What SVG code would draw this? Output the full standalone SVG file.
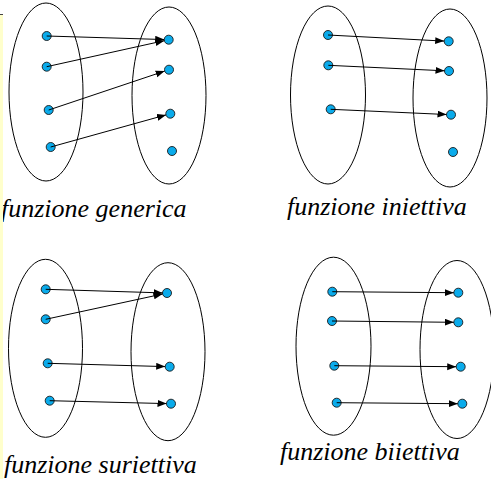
<svg xmlns="http://www.w3.org/2000/svg" width="491" height="479" viewBox="0 0 491 479">
<defs>
<marker id="ah" markerUnits="userSpaceOnUse" markerWidth="10" markerHeight="8" refX="9" refY="3.5" orient="auto">
<path d="M0,0 L9,3.5 L0,7 Z" fill="#000"/>
</marker>
</defs>
<text x="1" y="217" font-family="Liberation Serif" font-style="italic" font-size="26">funzione generica</text>
<text x="287" y="215" font-family="Liberation Serif" font-style="italic" font-size="26">funzione iniettiva</text>
<text x="4" y="473" font-family="Liberation Serif" font-style="italic" font-size="26">funzione suriettiva</text>
<text x="280" y="460" font-family="Liberation Serif" font-style="italic" font-size="26">funzione biiettiva</text>

<rect x="0" y="15" width="3" height="464" fill="#ffffcc"/>
<line x1="0" y1="14.5" x2="3" y2="14.5" stroke="#444" stroke-width="1"/>

<g id="generica">
<g fill="none" stroke="#000" stroke-width="1">
<ellipse cx="46" cy="92" rx="37" ry="89"/>
<ellipse cx="169" cy="95.5" rx="37" ry="88.5"/>
</g>
<g fill="#0aabeb" stroke="#1a1a1a" stroke-width="0.9">
<circle cx="46.7" cy="36" r="4.5"/>
<circle cx="46.7" cy="66.7" r="4.5"/>
<circle cx="48.7" cy="110" r="4.5"/>
<circle cx="50.7" cy="147" r="4.5"/>
<circle cx="168.7" cy="39.7" r="4.5"/>
<circle cx="169" cy="69.7" r="4.5"/>
<circle cx="170.3" cy="113.7" r="4.5"/>
<circle cx="172" cy="151" r="4.5"/>
</g>
</g>

<g id="iniettiva">
<g fill="none" stroke="#000" stroke-width="1">
<ellipse cx="328" cy="95" rx="37.5" ry="89"/>
<ellipse cx="450" cy="98" rx="37" ry="89"/>
</g>
<g fill="#0aabeb" stroke="#1a1a1a" stroke-width="0.9">
<circle cx="328" cy="35" r="4.5"/>
<circle cx="328.3" cy="65.3" r="4.5"/>
<circle cx="330.7" cy="109.3" r="4.5"/>
<circle cx="448.7" cy="41.3" r="4.5"/>
<circle cx="449" cy="71" r="4.5"/>
<circle cx="451" cy="114.7" r="4.5"/>
<circle cx="453" cy="152" r="4.5"/>
</g>
</g>

<g id="suriettiva">
<g fill="none" stroke="#000" stroke-width="1">
<ellipse cx="45.5" cy="348.3" rx="37" ry="89"/>
<ellipse cx="168" cy="351.7" rx="37" ry="89"/>
</g>
<g fill="#0aabeb" stroke="#1a1a1a" stroke-width="0.9">
<circle cx="45.7" cy="289.3" r="4.5"/>
<circle cx="45.7" cy="319.3" r="4.5"/>
<circle cx="47.7" cy="363.3" r="4.5"/>
<circle cx="49.7" cy="400.7" r="4.5"/>
<circle cx="167" cy="293" r="4.5"/>
<circle cx="169.7" cy="366.7" r="4.5"/>
<circle cx="171" cy="403.7" r="4.5"/>
</g>
</g>

<g id="biiettiva">
<g fill="none" stroke="#000" stroke-width="1">
<ellipse cx="333.5" cy="346.2" rx="37.5" ry="89"/>
<ellipse cx="457" cy="349.5" rx="37" ry="89"/>
</g>
<g fill="#0aabeb" stroke="#1a1a1a" stroke-width="0.9">
<circle cx="332.3" cy="291.7" r="4.5"/>
<circle cx="332" cy="321" r="4.5"/>
<circle cx="334.3" cy="365.7" r="4.5"/>
<circle cx="336.7" cy="402.7" r="4.5"/>
<circle cx="458.3" cy="292.7" r="4.5"/>
<circle cx="458.3" cy="322.3" r="4.5"/>
<circle cx="460.7" cy="366.7" r="4.5"/>
<circle cx="462.3" cy="403.7" r="4.5"/>
</g>
</g>

<g id="connectors" stroke="#000" stroke-width="1" fill="none" marker-end="url(#ah)">
<line x1="46.7" y1="36" x2="164.2" y2="39.56"/>
<line x1="46.7" y1="66.7" x2="164.3" y2="40.67"/>
<line x1="48.7" y1="110" x2="164.7" y2="71.1"/>
<line x1="50.7" y1="147" x2="166.0" y2="114.9"/>
<line x1="328" y1="35" x2="444.2" y2="41.1"/>
<line x1="328.3" y1="65.3" x2="444.5" y2="70.8"/>
<line x1="330.7" y1="109.3" x2="446.5" y2="114.5"/>
<line x1="45.7" y1="289.3" x2="162.5" y2="292.9"/>
<line x1="45.7" y1="319.3" x2="162.6" y2="294.0"/>
<line x1="47.7" y1="363.3" x2="165.2" y2="366.6"/>
<line x1="49.7" y1="400.7" x2="166.5" y2="403.6"/>
<line x1="332.3" y1="291.7" x2="453.8" y2="292.7"/>
<line x1="332" y1="321" x2="453.8" y2="322.3"/>
<line x1="334.3" y1="365.7" x2="456.2" y2="366.7"/>
<line x1="336.7" y1="402.7" x2="457.8" y2="403.7"/>
</g>
</svg>
